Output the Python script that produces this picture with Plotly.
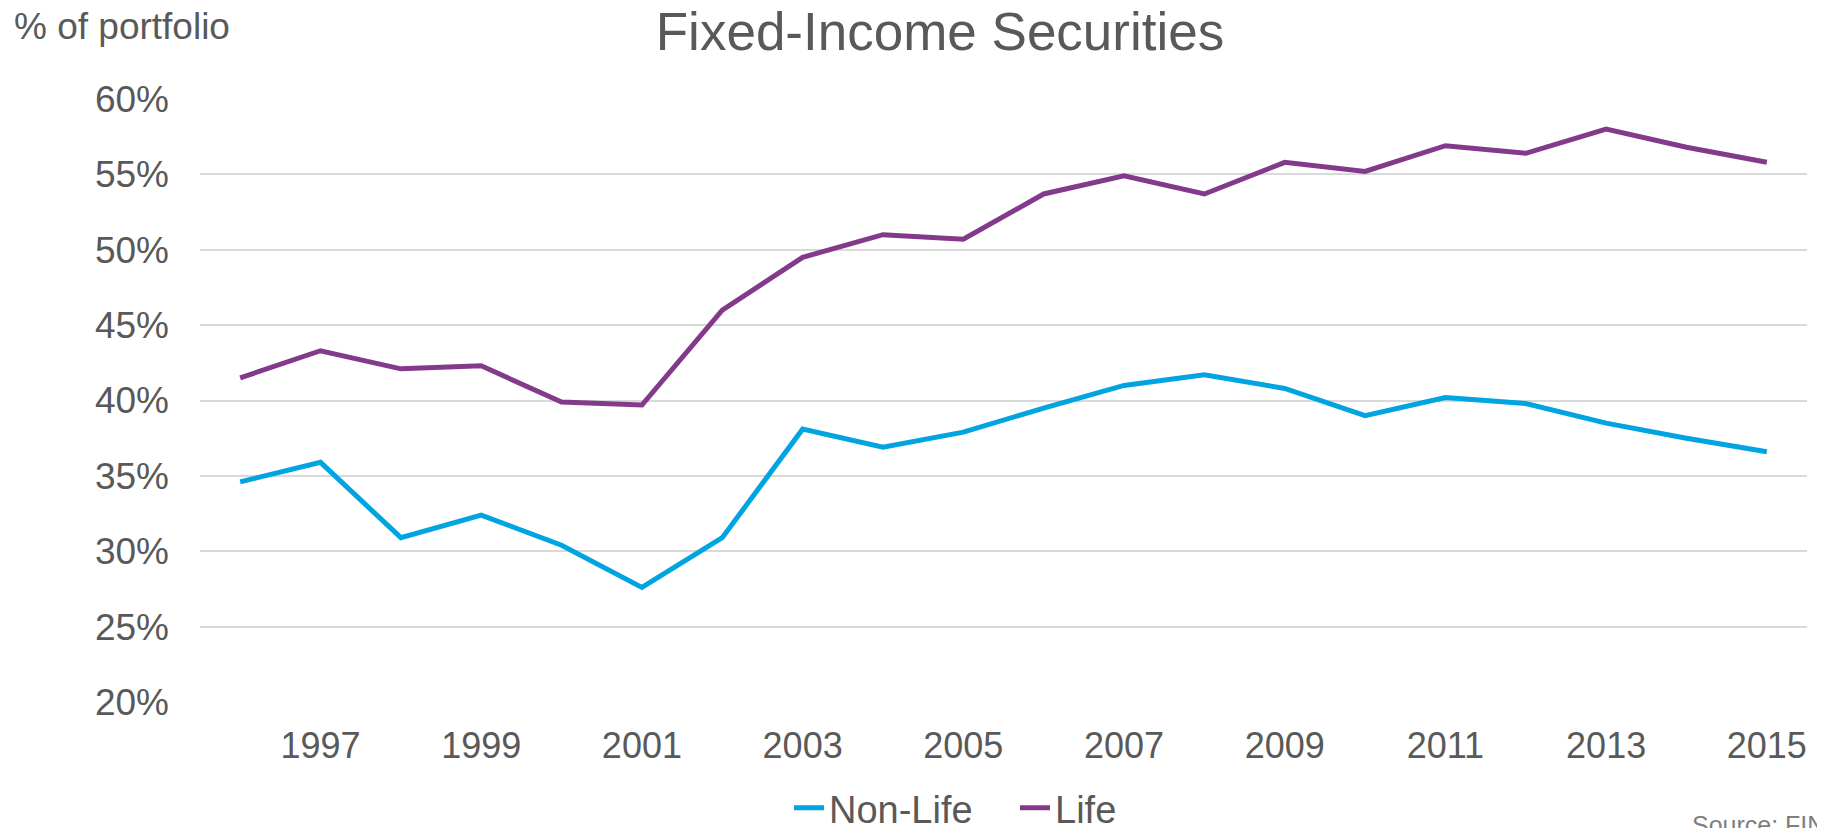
import plotly.graph_objects as go

years = list(range(1996, 2016))
non_life = [34.6, 35.9, 30.9, 32.4, 30.4, 27.6, 30.9, 38.1, 36.9, 37.9,
            39.5, 41.0, 41.7, 40.8, 39.0, 40.2, 39.8, 38.5, 37.5, 36.6]
life = [41.5, 43.3, 42.1, 42.3, 39.9, 39.7, 46.0, 49.5, 51.0, 50.7,
        53.7, 54.9, 53.7, 55.8, 55.2, 56.9, 56.4, 58.0, 56.8, 55.8]
x_ticks = [1997, 1999, 2001, 2003, 2005, 2007, 2009, 2011, 2013, 2015]
y_ticks = [20, 25, 30, 35, 40, 45, 50, 55, 60]

FONT = "Liberation Sans, Arial, sans-serif"
GREY = "#595959"
# page body has an 8px margin, so the figure is 8px smaller on each axis
W, H = 1817, 820
L, R, T, B = 192, 18, 91, 126
PW, PH = W - L - R, H - T - B

fig = go.Figure()
fig.add_trace(go.Scatter(x=years, y=non_life, mode="lines", name="Non-Life",
                         line=dict(color="#00A4E0", width=5)))
fig.add_trace(go.Scatter(x=years, y=life, mode="lines", name="Life",
                         line=dict(color="#833A8B", width=5)))

fig.update_layout(
    template="none",
    width=W, height=H,
    paper_bgcolor="white", plot_bgcolor="white",
    margin=dict(l=L, r=R, t=T, b=B, autoexpand=False),
    font=dict(family=FONT, color=GREY, size=36),
    title=dict(text="Fixed-Income Securities", x=932 / W, xanchor="center",
               y=1 - 23 / H, yanchor="middle", yref="container",
               font=dict(size=53, color=GREY, family=FONT)),
    showlegend=True,
    legend=dict(orientation="h", x=(781 - L) / PW, xanchor="left",
                yref="container", y=1 - 800 / H, yanchor="middle",
                font=dict(size=38, color=GREY, family=FONT),
                entrywidth=181, entrywidthmode="pixels",
                itemwidth=30, tracegroupgap=0, bgcolor="rgba(0,0,0,0)", borderwidth=0),
    annotations=[
        dict(text="% of portfolio", xref="paper", yref="paper",
             x=(4 - L) / PW, xanchor="left", y=1 + (T - 18) / PH, yanchor="middle",
             showarrow=False, font=dict(size=37, color=GREY, family=FONT)),
        dict(text="Source: FINMA", xref="paper", yref="paper",
             x=(1682 - L) / PW, xanchor="left", y=-(817 - (H - B)) / PH, yanchor="middle",
             showarrow=False, font=dict(size=25, color="#7f7f7f", family=FONT)),
    ],
)

fig.update_xaxes(range=[1995.5, 2015.5], tickvals=x_ticks, ticktext=[str(v) for v in x_ticks],
                 showgrid=False, zeroline=False, showline=False, ticks="", automargin=False,
                 ticklabelstandoff=19, tickfont=dict(size=36, color=GREY, family=FONT))
fig.update_yaxes(range=[20, 60], tickvals=y_ticks, ticktext=[f"{v}%" for v in y_ticks],
                 showgrid=True, gridcolor="#D9D9D9", gridwidth=1.5,
                 zeroline=False, showline=False, ticks="", automargin=False,
                 ticklabelstandoff=30, tickfont=dict(size=37, color=GREY, family=FONT))

fig.write_html("out.html")
